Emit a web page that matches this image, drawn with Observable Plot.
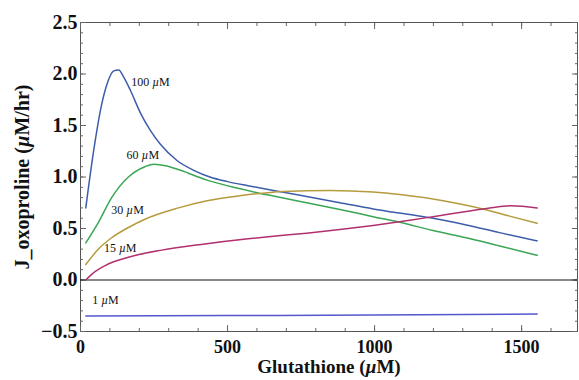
<!DOCTYPE html>
<html><head><meta charset="utf-8">
<script src="https://cdn.jsdelivr.net/npm/d3@7"></script>
<script src="https://cdn.jsdelivr.net/npm/@observablehq/plot@0.6"></script>
<style>body{margin:0;background:#fff}</style>
</head><body><div id="chart"></div>
<script>
// Series: Glutathione (µM) -> J_oxoproline (µM/hr)
const x100 = [18, 45, 68, 90, 113, 130, 147, 170, 204, 238, 271, 328, 385, 440, 500, 570, 656, 769, 882, 995, 1120, 1199, 1312, 1425, 1553];
const y100 = [0.70, 1.26, 1.65, 1.90, 2.03, 2.04, 1.97, 1.84, 1.62, 1.45, 1.32, 1.16, 1.065, 1.0, 0.955, 0.915, 0.87, 0.81, 0.75, 0.69, 0.635, 0.60, 0.535, 0.46, 0.38];
const x60 = [18, 61, 106, 163, 219, 250, 290, 340, 430, 543, 611, 656, 769, 882, 995, 1086, 1199, 1312, 1425, 1553];
const y60 = [0.36, 0.56, 0.80, 1.00, 1.10, 1.125, 1.11, 1.065, 0.97, 0.885, 0.84, 0.815, 0.75, 0.685, 0.615, 0.56, 0.48, 0.41, 0.33, 0.24];
const x30 = [18, 61, 106, 163, 219, 333, 430, 546, 690, 848, 995, 1086, 1233, 1368, 1459, 1553];
const y30 = [0.15, 0.30, 0.41, 0.51, 0.59, 0.70, 0.77, 0.82, 0.86, 0.87, 0.855, 0.83, 0.77, 0.69, 0.62, 0.55];
const x15 = [18, 38, 84, 163, 276, 423, 570, 656, 769, 882, 995, 1120, 1199, 1312, 1391, 1465, 1553];
const y15 = [0.0, 0.055, 0.14, 0.22, 0.29, 0.35, 0.40, 0.425, 0.455, 0.49, 0.53, 0.58, 0.615, 0.665, 0.70, 0.72, 0.70];
const x1 = [18, 500, 1000, 1553];
const y1 = [-0.35, -0.345, -0.34, -0.33];

const seriesNames = ["100 µM", "60 µM", "30 µM", "15 µM", "1 µM"];
const seriesColors = ["#3d5daa", "#3aa655", "#b59b3e", "#b1306f", "#5656cc"];
const seriesX = [x100, x60, x30, x15, x1];
const seriesY = [y100, y60, y30, y15, y1];

// Label anchor positions (data coords)
const labelX = [238, 212, 160, 135, 85];
const labelY = [1.92, 1.21, 0.68, 0.305, -0.20];

const xMajor = [0, 500, 1000, 1500];
const xMinor = d3.range(0, 1700, 100);
const yMajor = [-0.5, 0, 0.5, 1.0, 1.5, 2.0, 2.5];
const yMinor = d3.range(-5, 26).map(d => d / 10);

const lineData = [];
seriesNames.forEach((s, i) => seriesX[i].forEach((xv, j) => lineData.push({s, x: xv, y: seriesY[i][j]})));
const labels = seriesNames.map((s, i) => ({s, x: labelX[i], y: labelY[i]}));

const tickColor = "#666";
const blank = () => "";
const chart = Plot.plot({
  width: 579, height: 380,
  marginLeft: 80, marginRight: 2, marginTop: 22, marginBottom: 49,
  style: {fontFamily: "'Liberation Serif', 'Times New Roman', serif", background: "white"},
  x: {domain: [0, 1690]},
  y: {domain: [-0.5, 2.5]},
  color: {domain: seriesNames, range: seriesColors},
  marks: [
    Plot.frame({stroke: "#555"}),
    Plot.axisX({ticks: xMinor, tickSize: -3, tickFormat: blank, label: null, stroke: tickColor}),
    Plot.axisX({anchor: "top", ticks: xMinor, tickSize: -3, tickFormat: blank, label: null, stroke: tickColor}),
    Plot.axisX({anchor: "top", ticks: xMajor, tickSize: -6, tickFormat: blank, label: null, stroke: tickColor}),
    Plot.axisX({ticks: xMajor, tickSize: -6, tickPadding: 15, tickFormat: d => String(d), label: null,
      stroke: tickColor, fill: "#111", fontSize: 18, fontWeight: "bold"}),
    Plot.axisY({ticks: yMinor, tickSize: -3, tickFormat: blank, label: null, stroke: tickColor}),
    Plot.axisY({anchor: "right", ticks: yMinor, tickSize: -3, tickFormat: blank, label: null, stroke: tickColor}),
    Plot.axisY({anchor: "right", ticks: yMajor, tickSize: -6, tickFormat: blank, label: null, stroke: tickColor}),
    Plot.axisY({ticks: yMajor, tickSize: -6, tickPadding: 9, tickFormat: d3.format(".1f"), label: null,
      stroke: tickColor, fill: "#111", fontSize: 20, fontWeight: "bold"}),
    Plot.ruleY([0], {stroke: "#111", strokeWidth: 1}),
    Plot.line(lineData, {x: "x", y: "y", z: "s", stroke: "s", strokeWidth: 1.5, curve: "monotone-x"}),
    Plot.text(labels, {x: "x", y: "y", text: "s", fontSize: 12, fill: "#111"}),
    Plot.text(["Glutathione (µM)"], {frameAnchor: "bottom", dy: 41, fontSize: 19, fontWeight: "bold", fill: "#111"}),
    Plot.text(["J_oxoproline (µM/hr)"], {frameAnchor: "left", textAnchor: "middle", dx: -58, rotate: -90, fontSize: 20, fontWeight: "bold", fill: "#111"})
  ]
});
// italicize µ
chart.querySelectorAll("text").forEach(t => {
  if (t.children.length === 0 && t.textContent.includes("µ")) {
    const parts = t.textContent.split("µ");
    t.textContent = "";
    parts.forEach((p, i) => {
      if (i > 0) {
        const ts = document.createElementNS("http://www.w3.org/2000/svg", "tspan");
        ts.setAttribute("font-style", "italic");
        ts.textContent = "µ";
        t.appendChild(ts);
      }
      t.appendChild(document.createTextNode(p));
    });
  }
});
document.getElementById("chart").appendChild(chart);
</script>
</body></html>
